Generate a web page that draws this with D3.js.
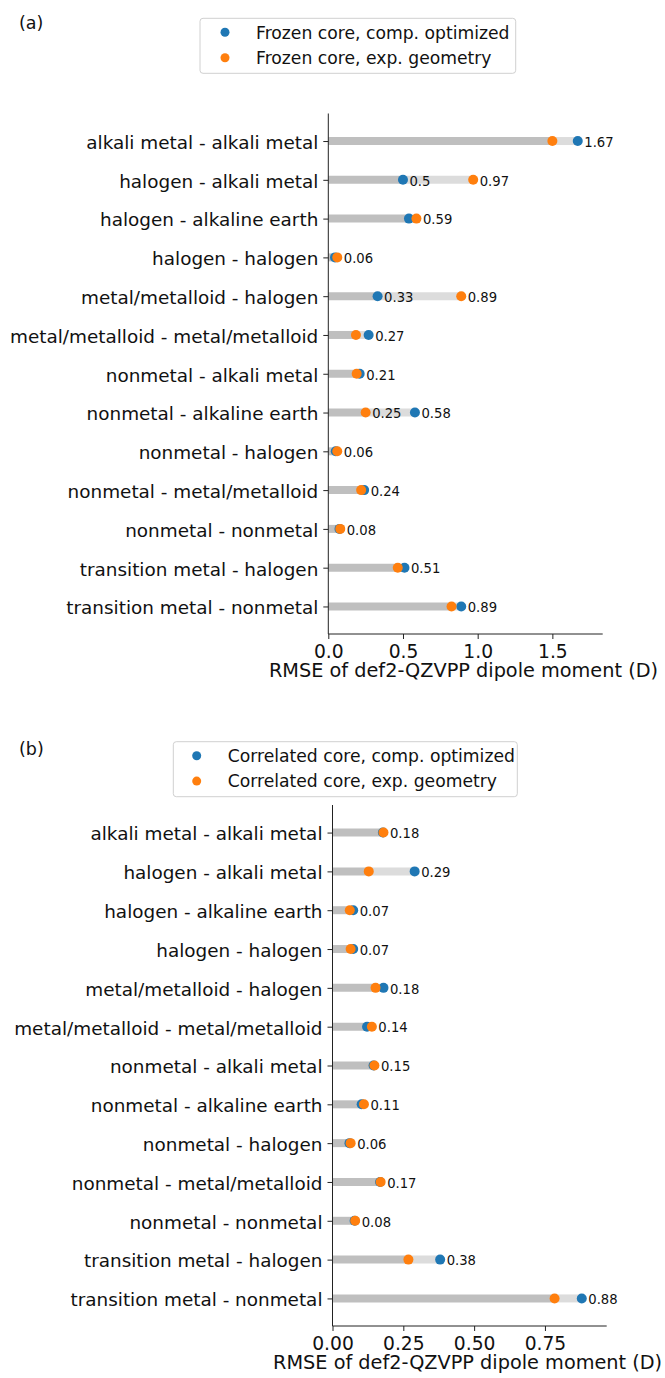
<!DOCTYPE html>
<html>
<head>
<meta charset="utf-8">
<script src="https://cdn.jsdelivr.net/npm/d3@7"></script>
<style>
	body { margin: 0; background: #fff; }
	text { font-family: "DejaVu Sans", sans-serif; fill: #111; }
</style>
</head>
<body>
<div id="chart-holder"></div>
<script>
//bond categories, same order in both panels
let categories = [
	"alkali metal - alkali metal",
	"halogen - alkali metal",
	"halogen - alkaline earth",
	"halogen - halogen",
	"metal/metalloid - halogen",
	"metal/metalloid - metal/metalloid",
	"nonmetal - alkali metal",
	"nonmetal - alkaline earth",
	"nonmetal - halogen",
	"nonmetal - metal/metalloid",
	"nonmetal - nonmetal",
	"transition metal - halogen",
	"transition metal - nonmetal"
];

//panel (a) RMSE values
let frozenOptimized = [1.67, 0.50, 0.54, 0.045, 0.33, 0.27, 0.21, 0.58, 0.05, 0.24, 0.075, 0.51, 0.89];
let frozenExperimental = [1.50, 0.97, 0.59, 0.06, 0.89, 0.185, 0.19, 0.25, 0.06, 0.22, 0.08, 0.465, 0.825];

//panel (b) RMSE values
let correlatedOptimized = [0.178, 0.29, 0.073, 0.073, 0.18, 0.122, 0.145, 0.103, 0.06, 0.168, 0.078, 0.38, 0.88];
let correlatedExperimental = [0.18, 0.128, 0.061, 0.064, 0.152, 0.139, 0.148, 0.111, 0.064, 0.17, 0.08, 0.268, 0.784];

let ticksA = [0, 0.5, 1.0, 1.5];
let ticksB = [0, 0.25, 0.5, 0.75];

let legendA = ["Frozen core, comp. optimized", "Frozen core, exp. geometry"];
let legendB = ["Correlated core, comp. optimized", "Correlated core, exp. geometry"];

let xLabel = "RMSE of def2-QZVPP dipole moment (D)";

let blue = "#1f77b4";
let orange = "#ff7f0e";

let svg = d3.select("#chart-holder").append("svg")
	.attr("width", 665)
	.attr("height", 1378);

let fmtValue = v => String(Math.round(v * 100) / 100);

let drawPanel = function(p) {
	let g = svg.append("g");

	//scales: x from 0 to 1.1*max, y one slot per category
	let maxVal = d3.max(p.opt.concat(p.exp));
	let x = d3.scaleLinear()
		.domain([0, maxVal * 1.1])
		.range([p.left, p.right]);
	let y = d3.scalePoint()
		.domain(categories)
		.range([p.top, p.bottom])
		.padding(0.71);

	let rows = categories.map((c, i) => ({
		cat: c,
		opt: p.opt[i],
		exp: p.exp[i],
		lo: Math.min(p.opt[i], p.exp[i]),
		hi: Math.max(p.opt[i], p.exp[i])
	}));

	//light bar from min to max, dark bar from 0 to min
	g.selectAll(".bar-hi")
		.data(rows)
		.enter()
		.append("line")
		.attr("x1", d => x(d.lo))
		.attr("x2", d => x(d.hi))
		.attr("y1", d => y(d.cat))
		.attr("y2", d => y(d.cat))
		.attr("stroke", "#dcdcdc")
		.attr("stroke-width", 8);
	g.selectAll(".bar-lo")
		.data(rows)
		.enter()
		.append("line")
		.attr("x1", x(0))
		.attr("x2", d => x(d.lo))
		.attr("y1", d => y(d.cat))
		.attr("y2", d => y(d.cat))
		.attr("stroke", "#bfbfbf")
		.attr("stroke-width", 8);

	//dots, orange drawn last so it sits on top
	g.selectAll(".dot-opt")
		.data(rows)
		.enter()
		.append("circle")
		.attr("cx", d => x(d.opt))
		.attr("cy", d => y(d.cat))
		.attr("r", 5)
		.attr("fill", blue);
	g.selectAll(".dot-exp")
		.data(rows)
		.enter()
		.append("circle")
		.attr("cx", d => x(d.exp))
		.attr("cy", d => y(d.cat))
		.attr("r", 5)
		.attr("fill", orange);

	//value labels: always at the max, also at the min when the gap is large
	let labels = [];
	rows.forEach(d => {
		labels.push({ cat: d.cat, v: d.hi });
		if (d.hi - d.lo > 0.25) labels.push({ cat: d.cat, v: d.lo });
	});
	g.selectAll(".val")
		.data(labels)
		.enter()
		.append("text")
		.attr("x", d => x(d.v) + 6.5)
		.attr("y", d => y(d.cat) + 1)
		.attr("dy", "0.36em")
		.style("font-size", "13.2px")
		.text(d => fmtValue(d.v));

	//y axis
	let yAxis = g.append("g")
		.attr("transform", `translate(${p.left}, 0)`)
		.call(d3.axisLeft(y).tickSize(5).tickPadding(5).tickSizeOuter(0));
	yAxis.select(".domain").remove();
	yAxis.selectAll("line").attr("stroke", "#222");
	yAxis.selectAll("text")
		.attr("dy", "0.40em")
		.style("font-size", "18.4px")
		.attr("fill", "#111");

	//x axis
	let xAxis = g.append("g")
		.attr("transform", `translate(0, ${p.bottom})`)
		.call(d3.axisBottom(x).tickValues(p.ticks).tickFormat(d3.format(p.tickFmt))
			.tickSize(5).tickPadding(6).tickSizeOuter(0));
	xAxis.select(".domain").remove();
	xAxis.selectAll("line").attr("stroke", "#222");
	xAxis.selectAll("text")
		.style("font-size", "18.7px")
		.attr("fill", "#111");

	//spines left and bottom
	g.append("line")
		.attr("x1", p.left).attr("x2", p.left)
		.attr("y1", p.top).attr("y2", p.bottom)
		.attr("stroke", "#222");
	g.append("line")
		.attr("x1", p.left).attr("x2", p.right)
		.attr("y1", p.bottom).attr("y2", p.bottom)
		.attr("stroke", "#222");

	g.append("text")
		.attr("x", (p.left + p.right) / 2 - 2)
		.attr("y", p.bottom + 42.5)
		.attr("text-anchor", "middle")
		.style("font-size", "19.3px")
		.text(xLabel);

	//panel letter
	g.append("text")
		.attr("x", 19)
		.attr("y", p.letterY)
		.attr("dy", "0.36em")
		.style("font-size", "17.5px")
		.text(p.letter);

	//legend
	let L = p.legend;
	g.append("rect")
		.attr("x", L.x)
		.attr("y", L.y)
		.attr("width", L.w)
		.attr("height", 55)
		.attr("rx", 3)
		.attr("fill", "#fff")
		.attr("stroke", "#d0d0d0");
	let items = g.selectAll(".legend-item")
		.data(p.legendText)
		.enter()
		.append("g")
		.attr("transform", (d, i) => `translate(${L.x}, ${L.y + 14 + i * 25.4})`);
	items.append("circle")
		.attr("cx", L.markerDx)
		.attr("r", 4.5)
		.attr("fill", (d, i) => i === 0 ? blue : orange);
	items.append("text")
		.attr("x", L.markerDx + 31)
		.attr("dy", "0.36em")
		.style("font-size", "17.2px")
		.text(d => d);
};

drawPanel({
	opt: frozenOptimized, exp: frozenExperimental,
	left: 328.3, right: 602.7, top: 113.5, bottom: 634,
	ticks: ticksA, tickFmt: ".1f",
	letter: "(a)", letterY: 22.5,
	legendText: legendA,
	legend: { x: 200, y: 18.3, w: 315.7, markerDx: 25 }
});

drawPanel({
	opt: correlatedOptimized, exp: correlatedExperimental,
	left: 332.5, right: 606.7, top: 805, bottom: 1326,
	ticks: ticksB, tickFmt: ".2f",
	letter: "(b)", letterY: 748.3,
	legendText: legendB,
	legend: { x: 173.3, y: 741.7, w: 344, markerDx: 23.4 }
});
</script>
</body>
</html>
